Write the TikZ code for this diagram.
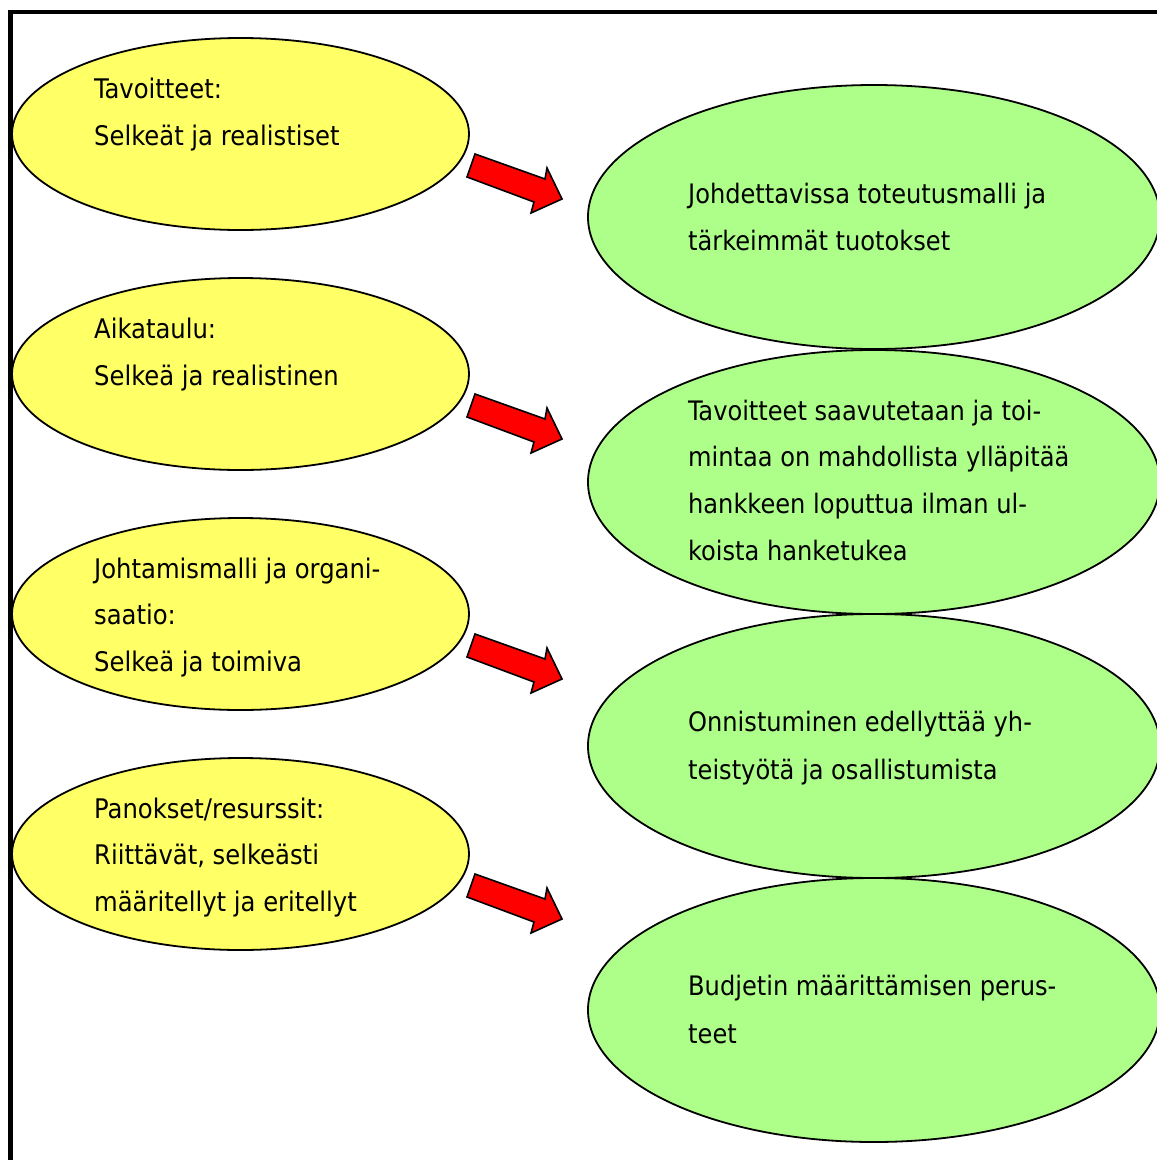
\documentclass[tikz,border=0pt]{standalone}
\usepackage{fontspec}
\setmainfont{DejaVu Sans Condensed}
\usetikzlibrary{shapes.geometric}
\definecolor{yfill}{RGB}{255,255,102}
\definecolor{gfill}{RGB}{174,255,138}
\definecolor{afill}{RGB}{255,0,0}
\begin{document}
\begin{tikzpicture}[x=1pt,y=-1pt,
  yell/.style={ellipse, draw=black, line width=1.8pt, fill=yfill, minimum width=457pt, minimum height=192pt, inner sep=0pt},
  gren/.style={ellipse, draw=black, line width=1.8pt, fill=gfill, minimum width=572pt, minimum height=264pt, inner sep=0pt},
  ytxt/.style={anchor=base west, inner sep=0pt, font=\fontsize{27}{30}\selectfont},
  gtxt/.style={anchor=base west, inner sep=0pt, font=\fontsize{26.8}{30}\selectfont},
  blockarrow/.style={draw=black, line width=1.6pt, fill=afill, line join=miter}
]
\useasboundingbox (0,0) rectangle (1157,1160);
\clip (0,0) rectangle (1157,1160);
\fill[white] (0,0) rectangle (1157,1160);
\draw[line width=4.5pt] (10.5,12) rectangle (1200,1200);

% yellow ellipses
\node[yell] (y1) at (240.5,134) {};
\node[yell] (y2) at (240.5,374) {};
\node[yell] (y3) at (240.5,614) {};
\node[yell] (y4) at (240.5,854) {};

% green ellipses
\node[gren] (g1) at (874,217) {};
\node[gren] (g2) at (874,482) {};
\node[gren] (g3) at (874,746) {};
\node[gren] (g4) at (874,1010) {};

% block arrows
\foreach \k in {0,1,2,3}{
  \begin{scope}[shift={(0,240*\k)}]
    \draw[blockarrow] (475,154) -- (545,179) -- (547,168) -- (562,199) -- (531,213) -- (534,202) -- (467,177) -- cycle;
  \end{scope}
}

% yellow texts
\node[ytxt] (y1a) at (94,98) {Tavoitteet:};
\node[ytxt] (y1b) at (94,145) {Selkeät ja realistiset};
\node[ytxt] (y2a) at (94,338) {Aikataulu:};
\node[ytxt] (y2b) at (94,385) {Selkeä ja realistinen};
\node[ytxt] (y3a) at (94,578) {Johtamismalli ja organi-};
\node[ytxt] (y3b) at (94,624.7) {saatio:};
\node[ytxt] (y3c) at (94,671.4) {Selkeä ja toimiva};
\node[ytxt] (y4a) at (94,818) {Panokset/resurssit:};
\node[ytxt] (y4b) at (94,864.7) {Riittävät, selkeästi};
\node[ytxt] (y4c) at (94,911.4) {määritellyt ja eritellyt};

% green texts
\node[gtxt] (g1a) at (688,203) {Johdettavissa toteutusmalli ja};
\node[gtxt] (g1b) at (688,250) {tärkeimmät tuotokset};
\node[gtxt] (g2a) at (688,420) {Tavoitteet saavutetaan ja toi-};
\node[gtxt] (g2b) at (688,466.7) {mintaa on mahdollista ylläpitää};
\node[gtxt] (g2c) at (688,513.4) {hankkeen loputtua ilman ul-};
\node[gtxt] (g2d) at (688,560) {koista hanketukea};
\node[gtxt] (g3a) at (688,731) {Onnistuminen edellyttää yh-};
\node[gtxt] (g3b) at (688,779) {teistyötä ja osallistumista};
\node[gtxt] (g4a) at (688,995) {Budjetin määrittämisen perus-};
\node[gtxt] (g4b) at (688,1043) {teet};
\end{tikzpicture}
\end{document}
